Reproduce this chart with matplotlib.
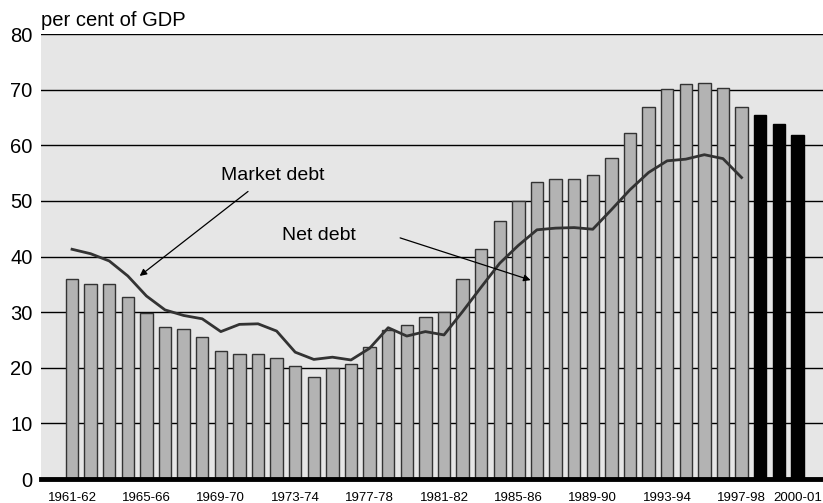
import numpy as np
import matplotlib
matplotlib.use("Agg")
import matplotlib.pyplot as plt

plt.rcParams['font.family'] = ['Liberation Sans', 'DejaVu Sans']

# Financial years 1961-62 .. 2000-01
years = [f"{y}-{str(y + 1)[-2:]}" for y in range(1961, 2001)]

# Market debt (bars), per cent of GDP; last three are projections
market_debt = [36.0, 35.1, 35.1, 32.8, 29.8, 27.3, 26.9, 25.5, 23.0, 22.5,
               22.4, 21.8, 20.3, 18.4, 19.9, 20.7, 23.8, 26.8, 27.6, 29.2,
               30.0, 36.0, 41.3, 46.3, 50.0, 53.4, 53.9, 53.9, 54.7, 57.7,
               62.2, 66.8, 70.2, 71.1, 71.2, 70.3, 66.9, 65.4, 63.9, 61.9]
n_actual = 37  # bars up to 1997-98 are outcomes

# Net debt (line), up to 1997-98
net_debt = [41.3, 40.5, 39.2, 36.5, 32.9, 30.4, 29.4, 28.8, 26.5, 27.8,
            27.9, 26.6, 22.8, 21.5, 21.9, 21.4, 23.5, 27.2, 25.7, 26.5,
            25.9, 30.1, 34.5, 38.8, 42.0, 44.8, 45.1, 45.2, 44.9, 48.4,
            52.0, 55.1, 57.2, 57.5, 58.3, 57.6, 54.2]

tick_idx = list(range(0, 37, 4)) + [39]

fig = plt.figure(figsize=(8.23, 5.03), dpi=100)
ax = fig.add_axes([0.0498, 0.0477, 0.9502, 0.8847])
ax.set_facecolor('#e6e6e6')

x = np.arange(len(years))
colors = ['#b3b3b3'] * n_actual + ['black'] * (len(years) - n_actual)
edges = ['#333333'] * n_actual + ['black'] * (len(years) - n_actual)
ax.bar(x, market_debt, width=0.67, color=colors, edgecolor=edges,
       linewidth=1.0, zorder=2)

ax.plot(x[:len(net_debt)], net_debt, color='#333333', lw=2.0, zorder=3,
        solid_joinstyle='round')

ax.set_xlim(-1.67, 40.38)
ax.set_ylim(0, 80)
ax.set_yticks(range(0, 81, 10))
ax.yaxis.grid(True, color='black', lw=1.0, zorder=0)
ax.set_axisbelow(True)
ax.tick_params(axis='y', length=0, labelsize=14.5, pad=6)
ax.set_xticks(tick_idx)
ax.set_xticklabels([years[i] for i in tick_idx])
ax.tick_params(axis='x', length=0, labelsize=9.5, pad=9)

for s in ['top', 'right', 'left']:
    ax.spines[s].set_visible(False)
ax.spines['bottom'].set_linewidth(3.5)
ax.spines['bottom'].set_zorder(4)

ax.text(0, 1.008, 'per cent of GDP', transform=ax.transAxes,
        fontsize=14.5, ha='left', va='bottom')

# Annotations
ax.annotate('', xy=(3.52, 36.2), xytext=(9.58, 52.0),
            arrowprops=dict(arrowstyle='-|>', color='black', lw=0.9,
                            mutation_scale=10))
ax.text(10.8, 54.5, 'Market debt', fontsize=14, ha='center', va='center')
ax.annotate('', xy=(24.8, 35.6), xytext=(17.5, 43.5),
            arrowprops=dict(arrowstyle='-|>', color='black', lw=0.9,
                            mutation_scale=10))
ax.text(13.3, 43.8, 'Net debt', fontsize=14, ha='center', va='center')

fig.savefig('out.png', dpi=100)
